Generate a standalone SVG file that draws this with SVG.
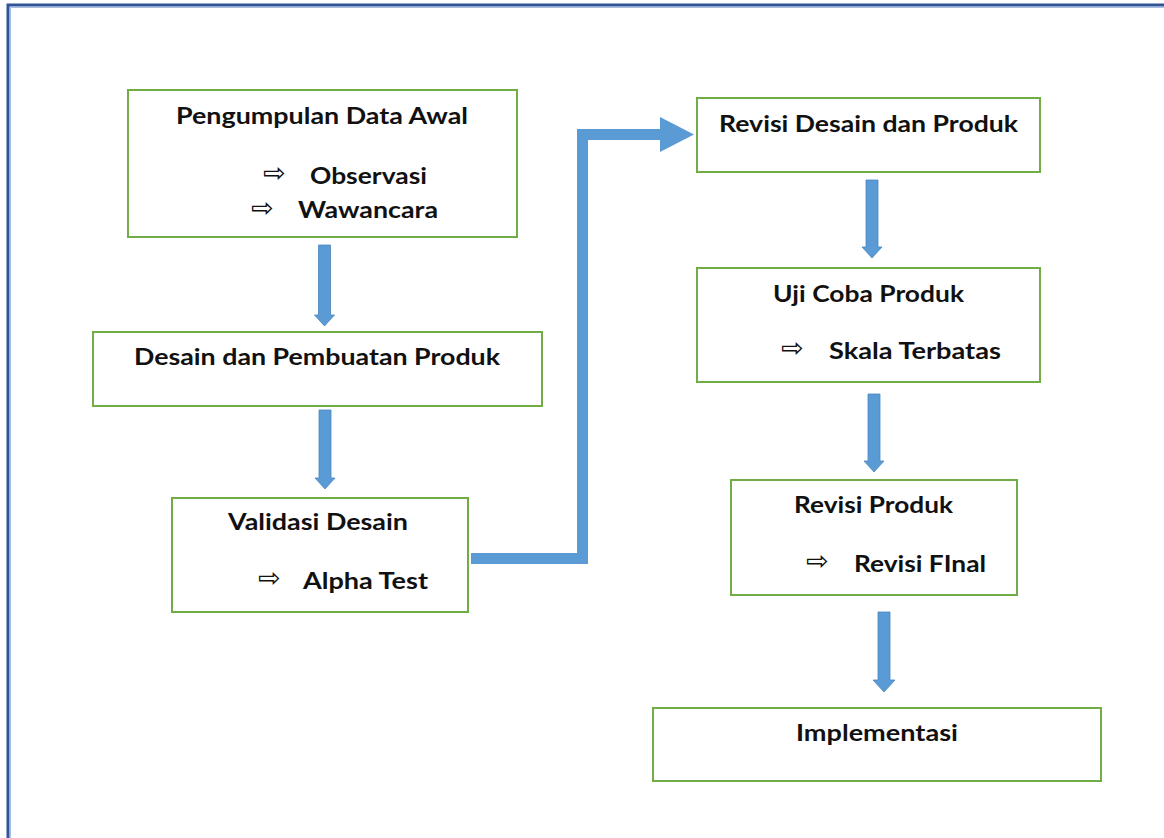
<svg xmlns="http://www.w3.org/2000/svg" width="1164" height="838" viewBox="0 0 1164 838">
<style>
.box{fill:#fff;stroke:#70AD47;stroke-width:2}
.t{font-family:Lato,"Liberation Sans",sans-serif;font-weight:bold;font-size:23px;fill:#111}
.ar{font-family:"DejaVu Sans",sans-serif;font-size:27px;fill:#111}
.blk{fill:#5B9BD5;stroke:#4A86C0;stroke-width:0.8}
</style>
<rect width="1164" height="838" fill="#fff"/>
<rect x="8" y="5" width="1170" height="850" fill="none" stroke="#2F5597" stroke-width="3"/>
<rect x="10.5" y="7.5" width="1170" height="850" fill="none" stroke="#A9BEE4" stroke-width="1"/>

<g id="n1">
<rect class="box" x="128" y="90" width="389" height="147"/>
<text class="t" x="176" y="124" textLength="292" lengthAdjust="spacingAndGlyphs">Pengumpulan Data Awal</text>
<text class="ar" x="263" y="182">⇨</text>
<text class="t" x="310" y="184" textLength="117" lengthAdjust="spacingAndGlyphs">Observasi</text>
<text class="ar" x="251" y="217">⇨</text>
<text class="t" x="298" y="218" textLength="140" lengthAdjust="spacingAndGlyphs">Wawancara</text>
</g>
<g id="n2">
<rect class="box" x="93" y="332" width="449" height="74"/>
<text class="t" x="134" y="365" textLength="366" lengthAdjust="spacingAndGlyphs">Desain dan Pembuatan Produk</text>
</g>
<g id="n3">
<rect class="box" x="172" y="498" width="296" height="114"/>
<text class="t" x="228" y="530" textLength="180" lengthAdjust="spacingAndGlyphs">Validasi Desain</text>
<text class="ar" x="258" y="587">⇨</text>
<text class="t" x="303" y="589" textLength="125" lengthAdjust="spacingAndGlyphs">Alpha Test</text>
</g>
<g id="n4">
<rect class="box" x="697" y="98" width="343" height="74"/>
<text class="t" x="719" y="132" textLength="299" lengthAdjust="spacingAndGlyphs">Revisi Desain dan Produk</text>
</g>
<g id="n5">
<rect class="box" x="697" y="268" width="343" height="114"/>
<text class="t" x="773" y="302" textLength="191" lengthAdjust="spacingAndGlyphs">Uji Coba Produk</text>
<text class="ar" x="781" y="357">⇨</text>
<text class="t" x="829" y="359" textLength="172" lengthAdjust="spacingAndGlyphs">Skala Terbatas</text>
</g>
<g id="n6">
<rect class="box" x="731" y="480" width="286" height="115"/>
<text class="t" x="794" y="513" textLength="159" lengthAdjust="spacingAndGlyphs">Revisi Produk</text>
<text class="ar" x="806" y="570">⇨</text>
<text class="t" x="854" y="572" textLength="132" lengthAdjust="spacingAndGlyphs">Revisi FInal</text>
</g>
<g id="n7">
<rect class="box" x="653" y="708" width="448" height="73"/>
<text class="t" x="796" y="741" textLength="162" lengthAdjust="spacingAndGlyphs">Implementasi</text>
</g>

<g id="connectors">
<polygon class="blk" points="318.5,245 330.5,245 330.5,315 334.5,315 324.5,326 314.5,315 318.5,315"/>
<polygon class="blk" points="319,410 331,410 331,478 335,478 325,489 315,478 319,478"/>
<polygon class="blk" points="866,180 878,180 878,247 882,247 872,258 862,247 866,247"/>
<polygon class="blk" points="868,394 880,394 880,461 884,461 874,472 864,461 868,461"/>
<polygon class="blk" points="878,612 890,612 890,680 895,680 884,692 873,680 878,680"/>
<polyline points="471,558.5 582.5,558.5 582.5,134.5 662,134.5" fill="none" stroke="#5B9BD5" stroke-width="11"/>
<polygon points="660,117 694,134.5 660,152" fill="#5B9BD5"/>
</g>
</svg>
